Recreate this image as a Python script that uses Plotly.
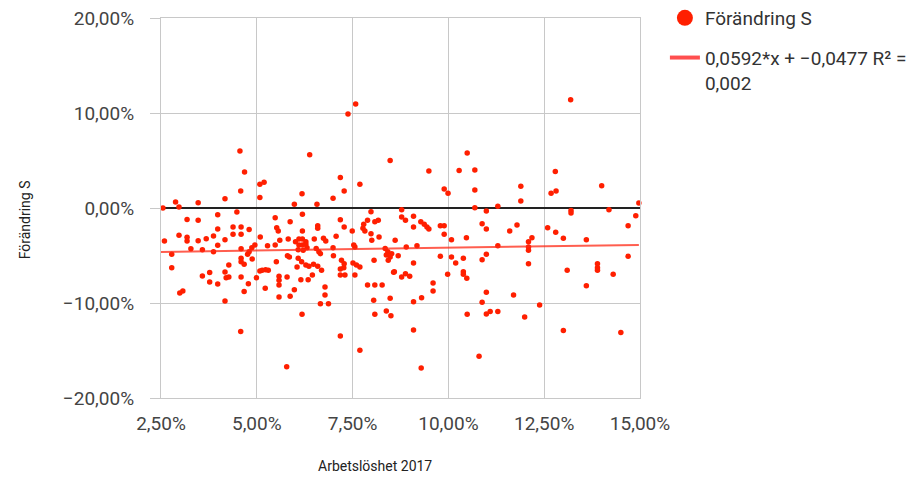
import plotly.graph_objects as go

# Arbetslöshet 2017 (%) and Förändring S (%)
x_pct = [
    4.56, 4.68, 4.58, 5.08, 5.19, 6.38, 6.18,
    7.58, 7.38, 8.48, 7.18, 7.69, 7.28, 9.49, 9.89, 9.99, 10.28, 10.49, 10.69, 10.69,
    13.19, 12.79, 11.89, 14.0, 12.68, 12.81,
    2.55, 2.88, 2.97, 3.47, 4.17, 4.48, 3.98, 3.18, 3.47, 3.98, 4.38, 4.59, 4.38, 4.59, 4.8,
    2.97, 3.18, 3.18, 3.47, 3.68, 3.87, 4.17, 3.98, 2.59, 2.45, 2.15, 2.78, 2.78, 3.28, 3.58,
    3.87, 4.27, 4.59, 4.59, 4.67, 4.59, 4.8, 4.87, 4.95, 4.88, 4.76, 3.58, 3.77, 3.77, 3.98,
    4.17, 4.2, 4.27, 4.59, 4.78, 4.67, 2.99, 3.07, 4.17, 4.99, 5.08, 5.14, 5.23, 5.3, 5.09,
    5.08, 5.28, 5.22,
    5.98, 6.57, 6.99, 5.48, 5.87, 6.19, 5.56, 5.82, 5.6, 5.48, 6.19, 6.59, 6.59, 7.18, 7.28,
    7.07, 6.74, 6.8, 6.5,
    6.01, 6.1, 6.19, 6.28, 6.1, 6.19, 6.28, 6.08, 6.21, 6.31,
    6.55, 6.62, 6.66, 6.99, 7.0, 7.53, 7.56, 7.51, 7.6, 7.69, 7.21, 7.28, 7.18, 7.27, 7.18,
    7.3, 7.56,
    6.08, 6.17, 6.28, 6.36, 6.48, 6.59, 6.69, 6.05, 5.8, 5.85, 5.51, 5.58, 5.58, 5.58, 5.79,
    6.15, 6.34, 6.45, 6.78, 6.78, 5.98, 5.87, 5.58, 6.66, 6.87, 7.89, 8.08, 8.27, 8.05, 8.48,
    8.57, 7.49, 7.79, 7.77, 7.82, 7.89, 8.08, 8.17, 7.98, 7.98, 8.0, 8.19, 8.06, 8.35, 8.42,
    8.52, 8.38, 8.48, 8.43, 8.59, 8.61, 5.52,
    8.78, 8.78, 8.88, 9.09, 9.09, 9.28, 9.37, 9.44, 9.49, 9.79, 9.89, 9.89, 10.08, 10.47,
    10.69, 10.99, 11.29, 10.88, 10.99, 11.6, 11.79, 8.9, 9.18, 8.69, 9.79, 10.08, 10.19,
    10.39, 10.99, 10.88, 11.29, 9.09, 8.78, 8.88, 8.99, 9.98, 10.39, 10.39, 10.48, 9.6, 9.6,
    9.3, 9.09, 10.99, 11.7, 10.88,
    11.89, 13.2, 13.2, 14.19, 14.89, 14.97, 14.69, 12.59, 12.8, 13.0, 13.6, 12.09, 12.18,
    12.09, 12.09, 14.69, 12.09, 13.1, 13.89, 13.89, 13.89, 14.3, 13.6, 12.38,
    13.0, 14.5, 10.8, 8.38, 8.5, 8.08, 9.09, 7.18, 7.69, 9.29, 10.49, 10.99, 11.09, 11.29,
    11.99, 6.18, 4.58, 5.78,
]
y_pct = [
    6.0, 3.8, 1.8, 2.5, 2.7, 5.6, 1.5,
    10.95, 9.9, 5.0, 3.2, 2.5, 1.8, 3.9, 2.0, 1.55, 3.95, 5.8, 4.0, 1.9,
    11.4, 3.85, 2.3, 2.35, 1.55, 1.8,
    0.0, 0.63, 0.1, 0.56, 0.98, -0.42, -0.7, -1.2, -1.3, -2.2, -2.0, -2.0, -2.77, -2.77, -2.25,
    -2.87, -3.08, -3.47, -3.44, -3.23, -2.95, -3.33, -3.93, -3.47, -4.3, -3.85, -4.87, -6.28, -4.3, -4.39,
    -4.6, -6.0, -5.3, -5.65, -5.93, -4.3, -4.6, -4.18, -3.9, -5.37, -4.87, -7.16, -6.8, -7.8, -8.0,
    -6.74, -7.34, -7.26, -7.26, -7.97, -8.8, -8.95, -8.74, -9.8, -7.34, -6.63, -6.56, -6.5, -6.56, -3.05,
    1.1, -3.97, -8.46,
    0.39, 0.39, 1.02, -1.02, -1.44, -0.67, -2.42, -3.26, -3.4, -3.9, -2.42, -1.86, -2.14, -1.23, -2.0,
    -2.98, -3.19, -3.47, -3.26,
    -3.55, -3.26, -3.26, -3.55, -3.9, -3.9, -3.82, -4.39, -4.45, -4.18,
    -4.25, -4.6, -4.81, -4.18, -5.02, -3.9, -4.1, -5.79, -6.0, -6.21, -5.5, -5.86, -6.42, -6.28, -7.05,
    -7.05, -7.05,
    -5.3, -5.65, -6.0, -6.14, -5.93, -6.14, -6.56, -6.21, -5.02, -5.16, -5.65, -7.19, -7.61, -8.1, -7.26,
    -7.54, -7.54, -7.05, -8.32, -9.16, -8.6, -9.3, -9.37, -10.07, -10.07, -8.1, -8.1, -8.1, -9.72, -9.5,
    -6.77, -2.42, -1.72, -2.14, -2.42, -1.3, -1.44, -1.3, -0.39, -2.7, -3.4, -3.05, -5.5, -4.25, -4.6,
    -4.81, -4.95, -5.16, -5.5, -6.7, -3.4, -2.07,
    -0.18, -0.95, -1.3, -0.88, -2.0, -1.44, -1.72, -2.0, -2.21, -1.86, -1.86, -2.77, -3.33, -3.12,
    0.03, -0.32, 0.18, -1.65, -2.21, -2.42, -1.79, -4.1, -3.97, -5.02, -5.09, -5.16, -5.79,
    -5.3, -4.87, -5.44, -3.97, -5.79, -7.26, -6.91, -7.19, -6.98, -6.7, -6.98, -7.4, -7.89, -8.74,
    -9.44, -9.86, -8.88, -9.16, -9.93,
    0.74, -0.25, -0.53, -0.18, -0.81, 0.53, -1.86, -2.07, -2.56, -3.19, -3.33, -3.55, -3.12,
    -4.1, -4.45, -5.09, -5.86, -6.56, -5.86, -6.28, -6.56, -6.98, -8.18, -10.2,
    -12.9, -13.1, -15.6, -10.84, -11.34, -11.19, -12.84, -13.47, -14.98, -16.84, -11.19, -11.16, -10.9, -10.9,
    -11.47, -11.19, -13.0, -16.7,
]

# Trendline coefficients as given in the legend
slope = 0.0592
intercept = -0.0477
trend_label = "0,0592*x + −0,0477 R² =<br>0,002"
series_label = "Förändring S"

y_ticks = [-0.2, -0.1, 0.0, 0.1, 0.2]
x_ticks = [0.025, 0.05, 0.075, 0.10, 0.125, 0.15]

xs = [v / 100 for v in x_pct]
ys = [v / 100 for v in y_pct]
x_min, x_max = min(xs), max(xs)
trend_x = [x_min, x_max]
trend_y = [slope * v + intercept for v in trend_x]

RED = "#ff1f00"
TXT = "#444444"
GRID = "#c8c8c8"
FONT = "Roboto, Arial, sans-serif"

fig = go.Figure()
fig.add_trace(go.Scatter(
    x=xs, y=ys, mode="markers",
    marker=dict(color=RED, size=5.5, line=dict(width=0)),
    showlegend=False, cliponaxis=False, hoverinfo="x+y",
))
fig.add_trace(go.Scatter(
    x=trend_x, y=trend_y, mode="lines",
    line=dict(color="rgba(255,40,20,0.75)", width=2),
    showlegend=False, hoverinfo="skip",
))
# legend entries
fig.add_trace(go.Scatter(
    x=[None], y=[None], mode="markers", name=series_label, legendgroup="a",
    marker=dict(color=RED, size=16),
))
fig.add_trace(go.Scatter(
    x=[None], y=[None], mode="lines", name=trend_label, legendgroup="b",
    line=dict(color="rgba(255,60,60,0.9)", width=4),
))

fig.update_layout(
    width=915, height=486,
    margin=dict(l=153, r=283, t=10, b=96, autoexpand=False),
    paper_bgcolor="white", plot_bgcolor="white",
    separators=",.",
    font=dict(family=FONT, size=13, color=TXT),
    legend=dict(
        x=1.052, y=1.05, xanchor="left", yanchor="top",
        font=dict(family=FONT, size=19, color="#333333"),
        tracegroupgap=12, itemwidth=30, valign="top",
    ),
    xaxis=dict(
        range=[0.025, 0.15], tickvals=x_ticks, tickformat=".2%",
        showgrid=True, gridcolor=GRID, gridwidth=1.2,
        zeroline=False, showline=True, mirror=True, linecolor=GRID, linewidth=1.2,
        ticks="", ticklabeloverflow="allow",
        ticklabelstandoff=8,
        tickfont=dict(family=FONT, size=19, color=TXT),
    ),
    yaxis=dict(
        range=[-0.2, 0.2], tickvals=y_ticks, tickformat=".2%",
        showgrid=True, gridcolor=GRID, gridwidth=1.2,
        zeroline=True, zerolinecolor="#222222", zerolinewidth=1.6,
        showline=True, mirror=True, linecolor=GRID, linewidth=1.2,
        ticks="outside", ticklen=10, tickcolor=GRID, tickwidth=1.2,
        ticklabeloverflow="allow",
        ticklabelstandoff=12,
        tickfont=dict(family=FONT, size=19, color=TXT),
    ),
    annotations=[
        dict(text="Arbetslöshet 2017", xref="paper", yref="paper",
             x=0.447, y=-0.18, xanchor="center", yanchor="middle", showarrow=False,
             font=dict(family=FONT, size=14, color="#222222")),
        dict(text="Förändring S", xref="paper", yref="paper",
             x=-0.284, y=0.47, xanchor="center", yanchor="middle", showarrow=False,
             textangle=-90, font=dict(family=FONT, size=14, color="#222222")),
    ],
)

fig.write_html("out.html")
